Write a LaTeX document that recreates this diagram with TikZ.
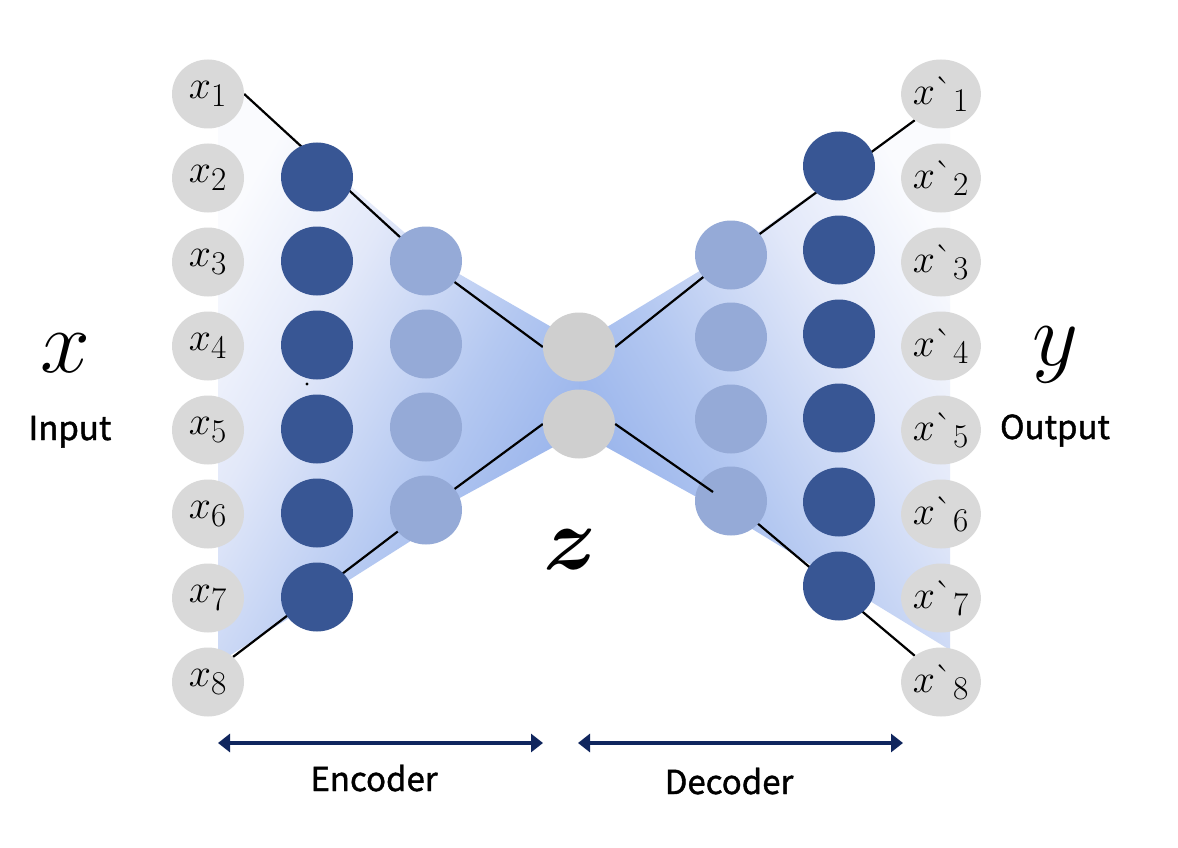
\documentclass[tikz,border=0pt]{standalone}
\usepackage{graphicx}
\usepackage{amsmath,bm}
\usepackage{fontspec}
\newfontfamily\labfont[FakeBold=1.3]{Noto Sans CJK KR}
\usetikzlibrary{shapes.geometric,arrows.meta,backgrounds}
\definecolor{ingray}{RGB}{217,217,217}
\definecolor{zgray}{RGB}{207,207,207}
\definecolor{dkblue}{RGB}{56,86,148}
\definecolor{ltblue}{RGB}{149,170,215}
\definecolor{navy}{RGB}{16,38,94}
\definecolor{bcen}{RGB}{146,175,234}
\definecolor{bmid}{RGB}{180,200,241}
\definecolor{bpale}{RGB}{226,232,249}
\definecolor{bout}{RGB}{250,251,254}
\pgfdeclarehorizontalshading{encsh}{100bp}{color(0bp)=(bout); color(25bp)=(bout); color(40bp)=(bpale); color(58bp)=(bmid); color(75bp)=(bcen); color(100bp)=(bcen)}
\pgfdeclarehorizontalshading{decsh}{100bp}{color(0bp)=(bcen); color(25bp)=(bcen); color(42bp)=(bmid); color(60bp)=(bpale); color(75bp)=(bout); color(100bp)=(bout)}
\newcommand{\nlab}[1]{\scalebox{1.6}{#1}}
\newcommand{\blab}[1]{\scalebox{3.6}{#1}}
\begin{document}
\begin{tikzpicture}[x=1pt,y=-1pt,
  base/.style={ellipse, minimum width=72pt, minimum height=69pt, inner sep=0pt},
  inp/.style={base, fill=ingray, font=\fontsize{24.88}{30}\selectfont},
  dk/.style={base, fill=dkblue},
  lt/.style={base, fill=ltblue},
  zn/.style={base, fill=zgray},
  conn/.style={line width=2.2pt, draw=black},
  arr/.style={line width=4.5pt, draw=navy, {Triangle[width=18pt,length=12pt]}-{Triangle[width=18pt,length=12pt]}},
  biglab/.style={font=\fontsize{24.88}{30}\selectfont, inner sep=0pt},
  txt/.style={font=\labfont\fontsize{33}{40}\selectfont, inner sep=0pt, anchor=base}]
\useasboundingbox (0,0) rectangle (1178,848);
% nodes
\foreach \i in {1,...,8} {
  \node[inp] (xin\i) at (208,{94+84*(\i-1)}) {\nlab{$x_{\i}$}};
  \node[inp] (xo\i) at (941,{94+84*(\i-1)}) {\nlab{$x\mbox{\textasciigrave}_{\i}$}};
}
\foreach \i in {1,...,6} {
  \node[dk] (ed\i) at (317,{177+84*(\i-1)}) {};
  \node[dk] (dd\i) at (839,{166+84*(\i-1)}) {};
}
\foreach \i in {1,...,4} {
  \node[lt] (el\i) at (426,{261+83*(\i-1)}) {};
  \node[lt] (dl\i) at (731,{255+82*(\i-1)}) {};
}
\node[zn] (z1) at (579,347) {};
\node[zn] (z2) at (579,424) {};
\begin{scope}[on background layer]
\fill[white] (0,0) rectangle (1178,848);
\shade[shading=encsh, shading angle=-30] (218,72) -- (440,263) -- (581,344) -- (581,432)
  -- (445,506) -- (428,530) -- (218,663) -- cycle;
\shade[shading=decsh, shading angle=30] (579,344) -- (731,252) -- (950,94)
  -- (950,650) -- (731,516) -- (579,432) -- cycle;
\draw[conn] (xin1.east) -- (el1.center) -- (z1.west);
\draw[conn] (xin8.45) -- (el4.center) -- (z2.west);
\draw[conn] (xo1.225) -- (dl1.center) -- (z1.east);
\draw[conn] (dl4.center) -- (xo8.135);
\end{scope}
\coordinate (ctop) at (713,492);
\draw[conn] (z2.east) -- (ctop);
\fill (307,384) circle (1.6pt);
% labels
\node[biglab] (lx) at (65,353) {\blab{$x$}};
\node[biglab] (ly) at (1055,355) {\blab{$y$}};
\node[biglab] (lz) at (570,550) {\blab{$\bm{z}$}};
\node[txt] (tin) at (70,440) {Input};
\node[txt] (tout) at (1055,439) {Output};
\node[txt] (tenc) at (374,791) {Encoder};
\node[txt] (tdec) at (729,794) {Decoder};
% arrows
\coordinate (ea1) at (218,743);
\coordinate (ea2) at (543,743);
\coordinate (da1) at (578,743);
\coordinate (da2) at (903,743);
\draw[arr] (ea1) -- (ea2);
\draw[arr] (da1) -- (da2);
\end{tikzpicture}
\end{document}
